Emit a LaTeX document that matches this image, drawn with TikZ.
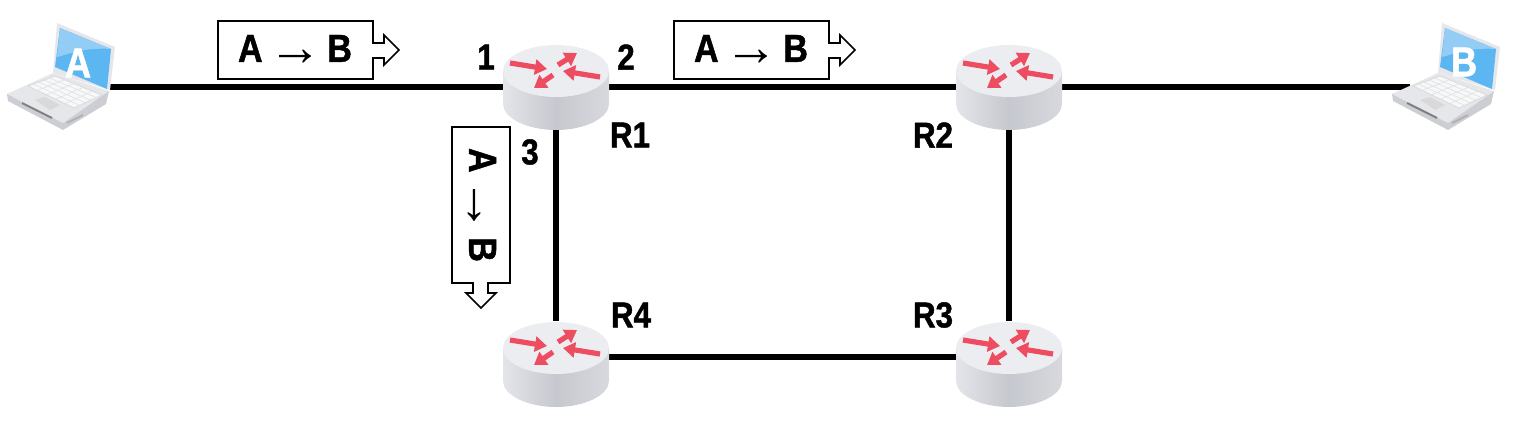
\documentclass[tikz,border=0pt]{standalone}
\usepackage{fontspec}
\setmainfont{Liberation Sans}
\newfontfamily\labelfont[FakeStretch=0.87, FakeBold=1.2]{Liberation Sans Bold}
\newfontfamily\arrowfont{Liberation Sans}
\newcommand{\flowarrow}{\kern-2pt\raisebox{-1.6pt}{\arrowfont\fontsize{27}{27}\selectfont →}\kern-2pt}
\usetikzlibrary{arrows.meta}

\definecolor{cFlow}{HTML}{EE4C60}
\definecolor{cTop}{HTML}{ECEDF1}
\definecolor{cSideL}{HTML}{E4E5E9}
\definecolor{cSideM}{HTML}{C6C8CF}
\definecolor{cSideR}{HTML}{D8D9DD}
\definecolor{cScreen}{HTML}{5CB6F1}
\definecolor{cGlare}{HTML}{93CDF6}
\definecolor{cCase}{HTML}{E6E7EA}
\definecolor{cEdge}{HTML}{CDCED3}
\definecolor{cKeys}{HTML}{F7F8F9}

\tikzset{
  routerbox/.style={inner sep=0pt, minimum width=53pt, minimum height=43pt},
  hostbox/.style={inner sep=0pt, minimum width=52pt, minimum height=20pt},
  link/.style={black, line width=3pt},
  flow/.style={cFlow, line width=2.6pt, -{Triangle[length=6pt, width=7.5pt]}},
  packet/.style={draw=black, fill=white, line width=0.8pt, line join=miter},
  packettext/.style={font=\labelfont\fontsize{19.5}{20}\selectfont, inner sep=0pt},
  portlabel/.style={font=\labelfont\fontsize{18}{20}\selectfont, inner sep=0pt},
  hostlabel/.style={white, font=\labelfont\fontsize{21}{22}\selectfont, inner sep=0pt},
  pics/router/.style={code={
    \path[left color=cSideL, right color=cSideR, middle color=cSideM]
      (-53,-16) -- (-53,17) .. controls (-53,31) and (-29,43) .. (0,43)
      .. controls (29,43) and (53,31) .. (53,17) -- (53,-16) -- cycle;
    \fill[cTop] (0,-16) ellipse [x radius=53, y radius=26];
    \draw[flow] (-46,-24) -- (-9,-18);
    \draw[flow] (2,-22) -- (21,-34);
    \draw[flow] (44,-10) -- (7,-16);
    \draw[flow] (-3,-12) -- (-22,1);
  }},
  pics/laptop/.style={code={
    %% lid and screen
    \fill[cCase] (-1,-64) -- (57,-40) -- (52,3) -- (-5,-14) -- cycle;
    \fill[cScreen] (2,-59) -- (53,-38) -- (49,2) -- (-3,-20) -- cycle;
    \fill[cGlare] (2,-59) -- (53,-38) .. controls (25,-40) and (8,-32) .. (-1,-30) -- cycle;
    %% base
    \fill[cEdge] (-51,7) -- (-50,14) -- (5,43) -- (48,17) -- (51,4) -- cycle;
    \fill[cCase] (-51,7) -- (-5,-14) -- (51,4) -- (5,36) -- cycle;
    \fill[cKeys, draw=black!15, line width=0.4pt] (-30,-1) -- (-3,-11) -- (44,8) -- (16,21) -- cycle;
    \foreach \t in {0.2,0.4,0.6,0.8} {
      \draw[black!12, line width=0.3pt] ({-30+\t*27},{-1-\t*10}) -- ({16+\t*28},{21-\t*13});
      \draw[black!12, line width=0.3pt] ({-30+\t*46},{-1+\t*22}) -- ({-3+\t*47},{-11+\t*19});
    }
    \fill[black!15] (-23,13) -- (-13,10) -- (2,18) -- (-8,23) -- cycle;
    \draw[black!50, line width=1pt] (-36,16) -- (-6,31);
    \draw[black!30, line width=1pt] (9,36) -- (25,28);
  }}
}

\begin{document}
\begin{tikzpicture}[x=0.5pt, y=-0.5pt]

\useasboundingbox (0,0) rectangle (1524,423);

%% ---------- nodes that carry the links ----------
\node[hostbox] (hostA) at (58,87) {};
\node[hostbox, minimum width=33pt] (hostB) at (1443,87) {};
\node[routerbox] (R1) at (556,87) {};
\node[routerbox] (R2) at (1009,87) {};
\node[routerbox, minimum height=36pt] (R3) at (1009,357) {};
\node[routerbox, minimum height=36pt] (R4) at (556,357) {};

%% ---------- links ----------
\draw[link] (hostA.east) -- (R1.west);
\draw[link] (R1.east) -- (R2.west);
\draw[link] (R2.east) -- (hostB.west);
\draw[link] (R1.south) -- (R4.north);
\draw[link] (R2.south) -- (R3.north);
\draw[link] (R4.east) -- (R3.west);

%% ---------- routers and hosts ----------
\foreach \rt in {R1,R2} {
  \pic at (\rt) {router};
}
\foreach \rt in {R3,R4} {
  \pic[yshift=-3.5pt] at (\rt) {router};
}
\pic at (hostA) {laptop};
\pic at (hostB) {laptop};
\node[hostlabel] (letterA) at (78,63) {A};
\node[hostlabel] (letterB) at (1464,62) {B};

%% ---------- packets on the way out ----------
\foreach \px/\pname in {218/pktOne, 674/pktTwo} {
  \draw[packet] (\px,21) -- (\px+155,21) -- (\px+155,43) -- (\px+166,43) -- (\px+166,35)
    -- (\px+181,50) -- (\px+166,65) -- (\px+166,58) -- (\px+155,58) -- (\px+155,79)
    -- (\px,79) -- cycle;
  \node[packettext] (\pname) at (\px+77,50) {A \flowarrow{} B};
}
\draw[packet] (452,127) -- (510,127) -- (510,283) -- (488,283) -- (488,293) -- (496,293)
  -- (481,308) -- (466,293) -- (473,293) -- (473,283) -- (452,283) -- cycle;
\node[packettext, rotate=-90] (pktThree) at (481,205) {A \flowarrow{} B};

%% ---------- port numbers and router names ----------
\foreach \lx/\ly/\ltxt/\lname in {486/57/1/portOne, 626/57/2/portTwo, 530/152/3/portThree,
    630/135/R1/nameOne, 933/135/R2/nameTwo, 933/315/R3/nameThree, 631/315/R4/nameFour} {
  \node[portlabel] (\lname) at (\lx,\ly) {\ltxt};
}

\end{tikzpicture}
\end{document}
